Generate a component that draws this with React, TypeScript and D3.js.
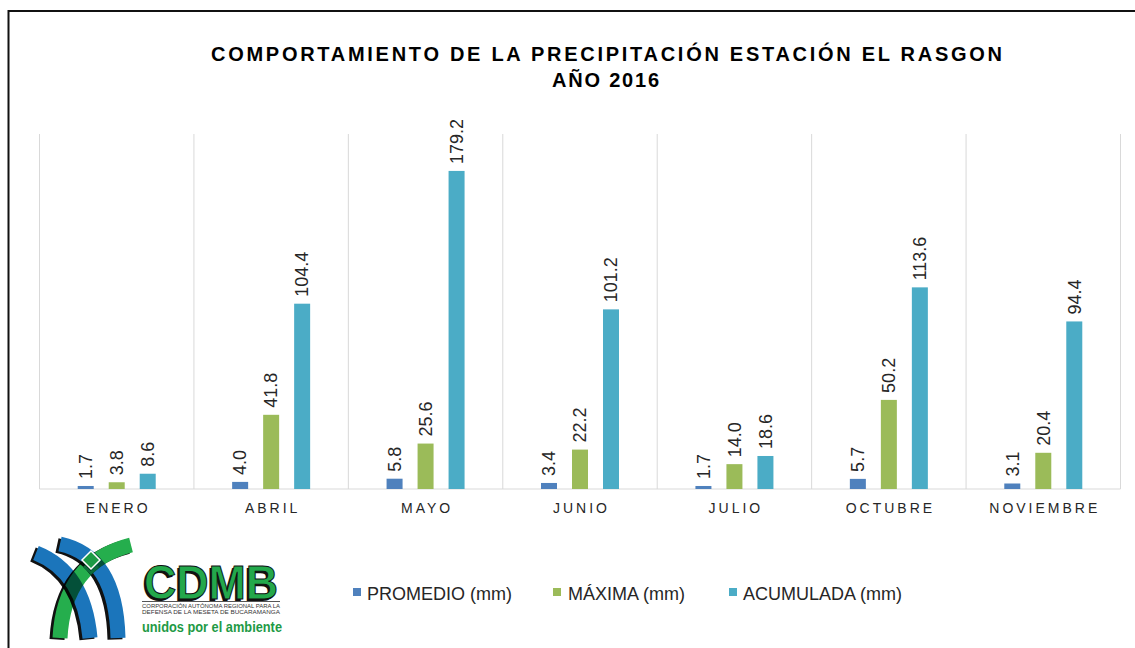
import React from "react";
import * as d3 from "d3";

const categories = ["ENERO", "ABRIL", "MAYO", "JUNIO", "JULIO", "OCTUBRE", "NOVIEMBRE"];
const promedio = [1.7, 4.0, 5.8, 3.4, 1.7, 5.7, 3.1];
const maxima = [3.8, 41.8, 25.6, 22.2, 14.0, 50.2, 20.4];
const acumulada = [8.6, 104.4, 179.2, 101.2, 18.6, 113.6, 94.4];
const seriesNames = ["PROMEDIO (mm)", "MÁXIMA (mm)", "ACUMULADA (mm)"];
const seriesColors = ["#4F81BD", "#9BBB59", "#4BACC6"];
const titleLines = ["COMPORTAMIENTO DE LA PRECIPITACIÓN ESTACIÓN EL RASGON", "AÑO 2016"];

const FONT = "'Liberation Sans', Arial, sans-serif";

function Logo() {
  const shadow = (d: string, w = 15) => (
    <path d={d} fill="none" stroke="#111" strokeWidth={w} transform="translate(-3,1.5)" />
  );
  const A = "M36,553 Q84,572 90,638";
  const B = "M60,544 Q116,556 118,638";
  const C = "M131,545 Q64,562 60,638";
  return (
    <g>
      <g style={{ isolation: "isolate" }}>
        {shadow(A)}
        <path d={A} fill="none" stroke="#1B75BB" strokeWidth={15} />
        {shadow(B)}
        <path d={B} fill="none" stroke="#1B75BB" strokeWidth={15} />
        <g style={{ mixBlendMode: "multiply" }}>
          {shadow(C)}
          <path d={C} fill="none" stroke="#25AE4D" strokeWidth={15} />
        </g>
      </g>
      <path d="M91,551 L100,560 L91,569 L82,560 Z" fill="#1C9A45" stroke="#fff" strokeWidth={1.5} />
      <path d="M84,566 L91,573 L98,566" fill="none" stroke="#0C6B3A" strokeWidth={3} />
      <text x={144} y={599} fontFamily={FONT} fontWeight="bold" fontSize={48} textLength={134}
        lengthAdjust="spacingAndGlyphs" fill="#111" transform="translate(-2,1.5)">CDMB</text>
      <text x={144} y={599} fontFamily={FONT} fontWeight="bold" fontSize={48} textLength={134}
        lengthAdjust="spacingAndGlyphs" fill="#23A84B" stroke="#111" strokeWidth={1}>CDMB</text>
      <line x1={142} x2={280} y1={601.5} y2={601.5} stroke="#555" strokeWidth={1} />
      <text x={142} y={608} fontFamily={FONT} fontSize={6} textLength={138} lengthAdjust="spacingAndGlyphs" fill="#333">CORPORACIÓN AUTÓNOMA REGIONAL PARA LA</text>
      <text x={142} y={614} fontFamily={FONT} fontSize={6} textLength={138} lengthAdjust="spacingAndGlyphs" fill="#333">DEFENSA DE LA MESETA DE BUCARAMANGA</text>
      <text x={142} y={632} fontFamily={FONT} fontWeight="bold" fontSize={14} textLength={140} lengthAdjust="spacingAndGlyphs" fill="#1E9A45">unidos por el ambiente</text>
    </g>
  );
}

export default function App() {
  const series = [promedio, maxima, acumulada];
  const x0 = d3.scaleBand<string>().domain(categories).range([39.5, 1120.5]).padding(0);
  const groupW = 78;
  const x1 = d3.scaleBand<number>().domain([0, 1, 2]).range([0, groupW]).paddingInner(15 / 31).paddingOuter(0);
  const y = d3.scaleLinear().domain([0, 200]).range([489, 134]);
  const offset = (x0.bandwidth() - groupW) / 2;
  const boundaries = categories.map((c) => x0(c)!).concat([x0.range()[1]]);

  const legendSquares = [353, 553, 729];
  const legendTexts = [367, 568, 743];

  return (
    <svg width={1135} height={648} style={{ position: "absolute", left: 0, top: 0, background: "#fff" }}>
      <rect x={0} y={0} width={1135} height={648} fill="#fff" />
      <rect x={8.5} y={11} width={1140} height={700} fill="none" stroke="#111" strokeWidth={2} />
      {titleLines.map((t, i) => (
        <text key={i} x={i === 0 ? 606.5 : 605.5} y={i === 0 ? 61 : 87} textAnchor="middle" fontFamily={FONT}
          fontWeight="bold" fontSize={20} fill="#000" textLength={i === 0 ? 791 : 107} lengthAdjust="spacing">{t}</text>
      ))}
      {boundaries.map((bx, i) => (
        <line key={i} x1={bx} x2={bx} y1={134} y2={489} stroke="#D9D9D9" strokeWidth={1} />
      ))}
      <line x1={39.5} x2={1120.5} y1={489} y2={489} stroke="#D9D9D9" strokeWidth={1} />
      {categories.map((c, ci) => (
        <g key={c}>
          {series.map((s, si) => {
            const bx = x0(c)! + offset + x1(si)!;
            const bw = x1.bandwidth();
            const top = y(s[ci]);
            const cx = bx + bw / 2;
            return (
              <g key={si}>
                <rect x={bx} y={top} width={bw} height={y(0) - top} fill={seriesColors[si]} />
                <text transform={`translate(${cx},${top - 7}) rotate(-90)`} dy="0.35em" fontFamily={FONT}
                  fontSize={18} fill="#262626">{s[ci].toFixed(1)}</text>
              </g>
            );
          })}
          <text x={x0(c)! + x0.bandwidth() / 2 + 1.5} y={513} textAnchor="middle" fontFamily={FONT} fontSize={14}
            letterSpacing={3} fill="#262626">{c}</text>
        </g>
      ))}
      {seriesNames.map((n, i) => (
        <g key={n}>
          <rect x={legendSquares[i]} y={588} width={8} height={8} fill={seriesColors[i]} />
          <text x={legendTexts[i]} y={599.5} fontFamily={FONT} fontSize={18} fill="#262626">{n}</text>
        </g>
      ))}
      <Logo />
    </svg>
  );
}
